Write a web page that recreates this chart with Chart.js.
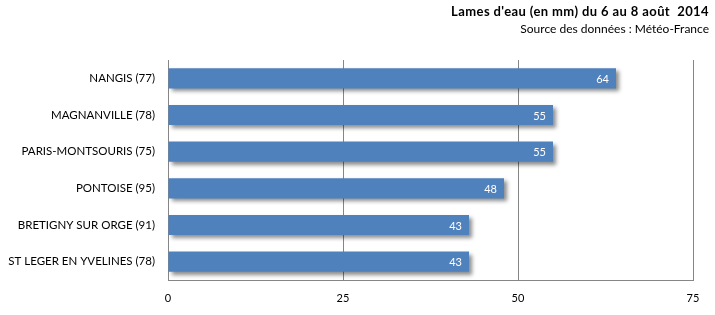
<!DOCTYPE html>
<html>
<head>
<meta charset="utf-8">
<script src="https://cdn.jsdelivr.net/npm/chart.js@4/dist/chart.umd.min.js"></script>
<style>
  body { margin: 0; background: #fff; }
  #wrap { position: relative; width: 715px; height: 315px; }
  #titles { position: absolute; right: 6px; top: 3px; text-align: right; font-family: Lato, sans-serif; font-size: 12px; line-height: 17px; color: #000; }
  #titles b { font-weight: bold; font-size: 13px; letter-spacing: 0.4px; }
</style>
</head>
<body>
<div id="wrap">
  <canvas id="chart" width="715" height="315"></canvas>
  <div id="titles">
    <b>Lames d'eau (en mm) du 6 au 8 août&nbsp; 2014</b><br>
    Source des données : Météo-France
  </div>
</div>
<script>
const stations = [
  "NANGIS (77)",
  "MAGNANVILLE (78)",
  "PARIS-MONTSOURIS (75)",
  "PONTOISE (95)",
  "BRETIGNY SUR ORGE (91)",
  "ST LEGER EN YVELINES (78)"
];
const rainfall = [64, 55, 55, 48, 43, 43];
const xTicks = [0, 25, 50, 75];

// shadow under the bars + white value labels at the bar end
const barExtras = {
  id: "barExtras",
  beforeDatasetsDraw(chart) {
    const ctx = chart.ctx;
    ctx.save();
    ctx.shadowColor = "rgba(0,0,0,0.45)";
    ctx.shadowBlur = 4;
    ctx.shadowOffsetX = 3;
    ctx.shadowOffsetY = 3;
  },
  afterDatasetsDraw(chart) {
    const ctx = chart.ctx;
    ctx.restore();
    ctx.save();
    ctx.fillStyle = "#fff";
    ctx.font = "11px Lato, sans-serif";
    ctx.textAlign = "right";
    ctx.textBaseline = "middle";
    chart.getDatasetMeta(0).data.forEach((bar, i) => {
      ctx.fillText(rainfall[i], bar.x - 7, bar.y + 1);
    });
    ctx.restore();
  }
};

new Chart(document.getElementById("chart"), {
  type: "bar",
  data: {
    labels: stations,
    datasets: [{
      data: rainfall,
      backgroundColor: "#4F81BD",
      borderWidth: 0,
      barPercentage: 0.55,
      categoryPercentage: 1
    }]
  },
  options: {
    indexAxis: "y",
    responsive: false,
    animation: false,
    layout: { padding: { top: 60, right: 22, left: 0, bottom: 0 } },
    plugins: {
      legend: { display: false },
      tooltip: { enabled: false }
    },
    scales: {
      x: {
        min: 0,
        max: 75,
        afterBuildTicks: s => { s.ticks = xTicks.map(v => ({ value: v })); },
        afterFit: s => { s.height = 35; },
        grid: { color: "#868686", drawTicks: false },
        border: { display: true, color: "#868686" },
        ticks: { color: "#000", padding: 12, font: { family: "Lato", size: 11 } }
      },
      y: {
        afterFit: s => { s.width = 168; },
        grid: { display: false, drawTicks: false },
        border: { display: true, color: "#868686" },
        ticks: { color: "#000", padding: 13, font: { family: "Lato", size: 11.5 } }
      }
    }
  },
  plugins: [barExtras]
});
</script>
</body>
</html>
